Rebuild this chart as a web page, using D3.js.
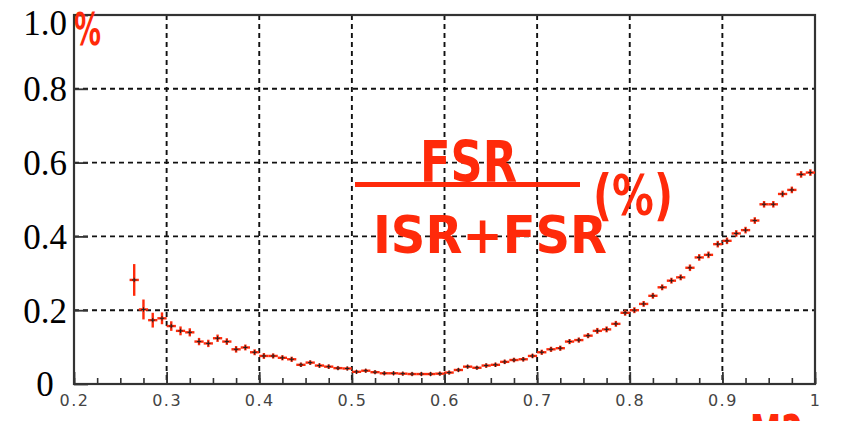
<!DOCTYPE html>
<html>
<head>
<meta charset="utf-8">
<script src="https://cdn.jsdelivr.net/npm/d3@7"></script>
<style>
  html, body { margin: 0; padding: 0; background: #fff; }
  svg { display: block; }
</style>
</head>
<body>
<script>
// Bin centres (bin width 0.01)
const massBins = [
  0.265, 0.275, 0.285, 0.295, 0.305, 0.315, 0.325, 0.335, 0.345, 0.355,
  0.365, 0.375, 0.385, 0.395, 0.405, 0.415, 0.425, 0.435, 0.445, 0.455,
  0.465, 0.475, 0.485, 0.495, 0.505, 0.515, 0.525, 0.535, 0.545, 0.555,
  0.565, 0.575, 0.585, 0.595, 0.605, 0.615, 0.625, 0.635, 0.645, 0.655,
  0.665, 0.675, 0.685, 0.695, 0.705, 0.715, 0.725, 0.735, 0.745, 0.755,
  0.765, 0.775, 0.785, 0.795, 0.805, 0.815, 0.825, 0.835, 0.845, 0.855,
  0.865, 0.875, 0.885, 0.895, 0.905, 0.915, 0.925, 0.935, 0.945, 0.955,
  0.965, 0.975, 0.985, 0.995
];
const binHalfWidth = 0.005;

// FSR / (ISR + FSR) fraction per bin
const fsrFraction = [
  0.282, 0.202, 0.173, 0.178, 0.157, 0.144, 0.140, 0.115, 0.110, 0.124,
  0.115, 0.094, 0.099, 0.086, 0.076, 0.076, 0.071, 0.067, 0.052, 0.058,
  0.050, 0.047, 0.043, 0.042, 0.033, 0.036, 0.032, 0.029, 0.029, 0.028,
  0.027, 0.027, 0.027, 0.028, 0.031, 0.038, 0.047, 0.044, 0.050, 0.052,
  0.060, 0.065, 0.067, 0.076, 0.086, 0.094, 0.097, 0.115, 0.119, 0.131,
  0.144, 0.148, 0.163, 0.193, 0.200, 0.217, 0.239, 0.262, 0.280, 0.289,
  0.315, 0.343, 0.350, 0.379, 0.388, 0.408, 0.417, 0.443, 0.487, 0.487,
  0.515, 0.526, 0.568, 0.573
];

// Statistical uncertainty per bin
const fsrError = [
  0.043, 0.027, 0.020, 0.016, 0.013, 0.012, 0.011, 0.010, 0.010, 0.010,
  0.009, 0.009, 0.008, 0.008, 0.008, 0.007, 0.007, 0.007, 0.006, 0.006,
  0.006, 0.006, 0.005, 0.005, 0.005, 0.005, 0.005, 0.005, 0.005, 0.005,
  0.005, 0.005, 0.005, 0.005, 0.005, 0.005, 0.005, 0.005, 0.006, 0.006,
  0.006, 0.006, 0.006, 0.006, 0.007, 0.007, 0.007, 0.007, 0.007, 0.007,
  0.008, 0.008, 0.008, 0.008, 0.008, 0.008, 0.008, 0.008, 0.008, 0.008,
  0.009, 0.009, 0.009, 0.009, 0.009, 0.009, 0.009, 0.009, 0.009, 0.009,
  0.009, 0.009, 0.009, 0.009
];

const xTickValues = [0.2, 0.3, 0.4, 0.5, 0.6, 0.7, 0.8, 0.9, 1.0];
const xTickLabels = ["0.2", "0.3", "0.4", "0.5", "0.6", "0.7", "0.8", "0.9", "1"];
const yTickValues = [0, 0.2, 0.4, 0.6, 0.8, 1.0];
const yTickLabels = ["0", "0.2", "0.4", "0.6", "0.8", "1.0"];

const W = 843, H = 421;
const red = "#ff2a0a";
const frameColor = "#333";

const svg = d3.select("body").append("svg")
  .attr("width", W).attr("height", H)
  .attr("viewBox", `0 0 ${W} ${H}`);

svg.append("rect").attr("width", W).attr("height", H).attr("fill", "#fff");

const x = d3.scaleLinear().domain([0.2, 1.0]).range([74, 815]);
const y = d3.scaleLinear().domain([0, 1.0]).range([384, 15]);

// Dashed grid
const grid = svg.append("g")
  .attr("stroke", "#111")
  .attr("stroke-width", 1.9)
  .attr("stroke-dasharray", "5,4");

grid.selectAll("line.vg")
  .data(xTickValues.slice(1, -1))
  .join("line")
  .attr("class", "vg")
  .attr("x1", d => x(d)).attr("x2", d => x(d))
  .attr("y1", y(1)).attr("y2", y(0));

grid.selectAll("line.hg")
  .data(yTickValues.slice(1, -1))
  .join("line")
  .attr("class", "hg")
  .attr("x1", x(0.2)).attr("x2", x(1))
  .attr("y1", d => y(d)).attr("y2", d => y(d));

// Minor x ticks
const xMinor = d3.axisBottom(x)
  .tickValues(d3.range(0.2, 1.0001, 0.025))
  .tickSize(-6)
  .tickFormat("");
const gxm = svg.append("g").attr("transform", `translate(0,${y(0)})`).call(xMinor);
gxm.select(".domain").remove();
gxm.selectAll("line").attr("stroke", frameColor).attr("stroke-width", 1.6);

// Major x ticks and labels
const xAxis = d3.axisBottom(x)
  .tickValues(xTickValues)
  .tickSize(-12)
  .tickPadding(11)
  .tickFormat((d, i) => xTickLabels[i]);
const gx = svg.append("g").attr("transform", `translate(0,${y(0)})`).call(xAxis);
gx.select(".domain").remove();
gx.selectAll("line").attr("stroke", frameColor).attr("stroke-width", 1.8);
gx.selectAll("text")
  .attr("fill", "#444")
  .attr("font-family", "'DejaVu Sans', sans-serif")
  .attr("font-size", 16)
  .attr("letter-spacing", "1.5px");

// Y ticks and labels
const yAxis = d3.axisLeft(y)
  .tickValues(yTickValues)
  .tickSize(-14)
  .tickFormat((d, i) => yTickLabels[i]);
const gy = svg.append("g").attr("transform", `translate(${x(0.2)},0)`).call(yAxis);
gy.select(".domain").remove();
gy.selectAll("line").attr("stroke", frameColor).attr("stroke-width", 1.8);
gy.selectAll("text")
  .attr("x", -29)
  .attr("dy", d => d === 1.0 ? "0.55em" : "0.34em")
  .attr("text-anchor", "middle")
  .attr("fill", "#000")
  .attr("font-family", "'Liberation Serif', 'Times New Roman', serif")
  .attr("font-size", 35);

// Frame
svg.append("rect")
  .attr("x", x(0.2)).attr("y", y(1))
  .attr("width", x(1) - x(0.2)).attr("height", y(0) - y(1))
  .attr("fill", "none")
  .attr("stroke", frameColor)
  .attr("stroke-width", 2.2);

// Data points: bin-width bars, error bars and markers
const pts = massBins.map((c, i) => ({ c, v: fsrFraction[i], e: fsrError[i] }));
const gp = svg.append("g");

gp.selectAll("line.hbar").data(pts).join("line")
  .attr("class", "hbar")
  .attr("x1", d => x(d.c - binHalfWidth)).attr("x2", d => x(d.c + binHalfWidth))
  .attr("y1", d => y(d.v)).attr("y2", d => y(d.v))
  .attr("stroke", red).attr("stroke-width", 2.4);

gp.selectAll("line.vbar").data(pts).join("line")
  .attr("class", "vbar")
  .attr("x1", d => x(d.c)).attr("x2", d => x(d.c))
  .attr("y1", d => y(d.v - d.e)).attr("y2", d => y(d.v + d.e))
  .attr("stroke", red).attr("stroke-width", 2.4);

gp.selectAll("path.mark").data(pts).join("path")
  .attr("class", "mark")
  .attr("d", d => {
    const px = x(d.c), py = y(d.v), s = 2.2;
    return `M${px - s},${py}H${px + s}M${px},${py - s}V${py + s}`;
  })
  .attr("stroke", "#222").attr("stroke-width", 1);

// Annotations
const anno = svg.append("g")
  .attr("fill", red)
  .attr("font-family", "'DejaVu Sans', sans-serif")
  .attr("font-weight", "bold");

anno.append("text")
  .attr("x", 74).attr("y", 45)
  .attr("font-size", 44)
  .attr("textLength", 27).attr("lengthAdjust", "spacingAndGlyphs")
  .text("%");

anno.append("text")
  .attr("x", 420).attr("y", 182)
  .attr("font-size", 57)
  .attr("textLength", 97).attr("lengthAdjust", "spacingAndGlyphs")
  .text("FSR");

svg.append("line")
  .attr("x1", 355).attr("x2", 580)
  .attr("y1", 184.5).attr("y2", 184.5)
  .attr("stroke", red).attr("stroke-width", 5);

anno.append("text")
  .attr("x", 373).attr("y", 253)
  .attr("font-size", 52)
  .attr("textLength", 234).attr("lengthAdjust", "spacingAndGlyphs")
  .text("ISR+FSR");

anno.append("text")
  .attr("x", 593).attr("y", 214)
  .attr("font-size", 56)
  .attr("textLength", 80).attr("lengthAdjust", "spacingAndGlyphs")
  .text("(%)");

anno.append("text")
  .attr("x", 750).attr("y", 452)
  .attr("font-size", 52)
  .attr("textLength", 53).attr("lengthAdjust", "spacingAndGlyphs")
  .text("M2");
</script>
</body>
</html>
